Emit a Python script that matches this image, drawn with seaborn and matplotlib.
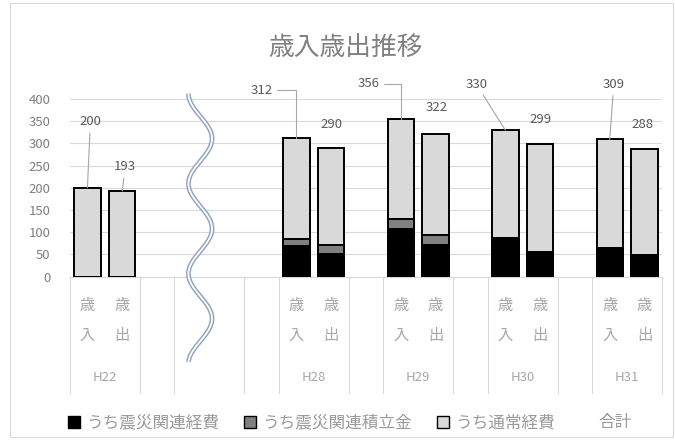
import numpy as np
import pandas as pd
import matplotlib
matplotlib.use("Agg")
import matplotlib.pyplot as plt
import matplotlib.transforms as mtransforms
from matplotlib.patches import Patch, Rectangle
import seaborn as sns

# ---- data (億円) -------------------------------------------------------
years = ["H22", "H28", "H29", "H30", "H31"]
kinds = ["歳入", "歳出"]
disaster_cost = [[0, 0], [70, 50], [107, 71], [86, 53], [64, 49]]      # うち震災関連経費
disaster_fund = [[0, 0], [15, 22], [22, 22], [0, 3], [0, 0]]          # うち震災関連積立金
totals = [[200, 193], [312, 290], [356, 322], [330, 299], [309, 288]]  # 合計
series_names = ["うち震災関連経費", "うち震災関連積立金", "うち通常経費", "合計"]
y_ticks = [0, 50, 100, 150, 200, 250, 300, 350, 400]

# ---- category layout: (group label, slot count); blank groups are spacers
segments = [("H22", 2), ("", 1), ("", 2), ("", 1), ("H28", 2), ("", 1),
            ("H29", 2), ("", 1), ("H30", 2), ("", 1), ("H31", 2)]
order, boundaries, group_centers = [], [-0.5], {}
pos = 0
for k, (lab, n) in enumerate(segments):
    if lab:
        for kind in kinds:
            order.append(f"{lab}|{kind}")
        group_centers[lab] = pos + (n - 1) / 2
    else:
        order.extend(f"_blank{k}_{i}" for i in range(n))
    pos += n
    boundaries.append(pos - 0.5)

rows = []
for yi, yr in enumerate(years):
    for ki, kind in enumerate(kinds):
        rows.append({
            "slot": f"{yr}|{kind}",
            "cost": disaster_cost[yi][ki],
            "cost_fund": disaster_cost[yi][ki] + disaster_fund[yi][ki],
            "total": totals[yi][ki],
        })
df = pd.DataFrame(rows)

# ---- style --------------------------------------------------------------
sns.set_theme(style="white")
plt.rcParams["font.family"] = ["Noto Sans CJK JP", "DejaVu Sans"]

fig = plt.figure(figsize=(6.75, 4.45), dpi=100)
ax = fig.add_axes([70 / 675, 168.3 / 445, 592 / 675, 177.7 / 445])

grid_c = "#d9d9d9"
text_c = "#7f7f7f"
colors = {"cost": "#000000", "cost_fund": "#808080", "total": "#d9d9d9"}

# stacked bars drawn as overlapping cumulative heights
for col in ["total", "cost_fund", "cost"]:
    sns.barplot(data=df, x="slot", y=col, order=order, color=colors[col],
                saturation=1, width=0.76, edgecolor="black", linewidth=1.4,
                errorbar=None, ax=ax, zorder=3)

ax.set_xlim(-0.5, len(order) - 0.5)
ax.set_ylim(0, 400)
ax.set_yticks(y_ticks)
ax.set_yticklabels([str(v) for v in y_ticks], fontsize=9.5, color=text_c)
ax.set_xticks([])
ax.set_xlabel("")
ax.set_ylabel("")
ax.tick_params(axis="y", length=0, pad=14)
ax.yaxis.grid(True, color=grid_c, lw=0.8, zorder=0)
ax.set_axisbelow(True)
for s in ["left", "right", "top"]:
    ax.spines[s].set_visible(False)
ax.spines["bottom"].set_color(grid_c)
ax.spines["bottom"].set_linewidth(0.8)

blend = mtransforms.blended_transform_factory(ax.transData, ax.transAxes)

# multi-level category axis
for b in boundaries:
    ax.plot([b, b], [0, -0.655], transform=blend, color=grid_c, lw=0.8,
            clip_on=False, zorder=1)
for yr in years:
    for kind in kinds:
        xi = order.index(f"{yr}|{kind}")
        ax.text(xi, -0.16, kind[0], transform=blend, ha="center", va="center",
                fontsize=11, color="#a6a6a6")
        ax.text(xi, -0.33, kind[1], transform=blend, ha="center", va="center",
                fontsize=11, color="#a6a6a6")
    ax.text(group_centers[yr], -0.565, yr, transform=blend, ha="center",
            va="center", fontsize=9.5, color="#a6a6a6")

# total labels with leader lines: (dx, dy) in pixels, leader style
label_layout = {
    ("H22", "歳入"): (3, 66, "line"), ("H22", "歳出"): (3, 24, "line"),
    ("H28", "歳入"): (-35, 48, "angle"), ("H28", "歳出"): (0, 23, None),
    ("H29", "歳入"): (-32, 35, "angle"), ("H29", "歳出"): (1, 26, None),
    ("H30", "歳入"): (-29, 46, "line"), ("H30", "歳出"): (0, 24, None),
    ("H31", "歳入"): (4, 55, "line"), ("H31", "歳出"): (-2, 24, None),
}
for yi, yr in enumerate(years):
    for ki, kind in enumerate(kinds):
        xi = order.index(f"{yr}|{kind}")
        dx, dy, leader = label_layout[(yr, kind)]
        arrow = None
        if leader == "line":
            arrow = dict(arrowstyle="-", color="#a6a6a6", lw=0.8,
                         shrinkA=1, shrinkB=0)
        elif leader == "angle":
            arrow = dict(arrowstyle="-", color="#a6a6a6", lw=0.8,
                         shrinkA=1, shrinkB=0,
                         connectionstyle="angle,angleA=0,angleB=90,rad=0")
        ax.annotate(str(totals[yi][ki]), xy=(xi, totals[yi][ki]),
                    xytext=(dx, dy), textcoords="offset pixels",
                    ha="center", va="center", fontsize=9.5, color="#595959",
                    arrowprops=arrow, annotation_clip=False, zorder=6)

# axis-break wave between H22 and H28
brk = [i for i, o in enumerate(order) if o.startswith("_blank2_")]
xc = np.mean(brk) - 0.26
ys = np.linspace(1.03, -0.48, 500)
xs = xc - 0.34 * np.cos(2 * np.pi * (1.03 - ys) / 0.5065)
ax.plot(xs, ys, transform=blend, color="#8fa3bf", lw=3.4, clip_on=False,
        solid_capstyle="butt", zorder=7)
ax.plot(xs, ys, transform=blend, color="white", lw=1.3, clip_on=False,
        solid_capstyle="butt", zorder=8)

# title
fig.text(345 / 675, 1 - 48 / 445, "歳入歳出推移", ha="center", va="center",
         fontsize=18.5, color="#808080")

# legend
handles = [Patch(facecolor=colors["cost"], edgecolor="black", lw=1),
           Patch(facecolor=colors["cost_fund"], edgecolor="black", lw=1),
           Patch(facecolor=colors["total"], edgecolor="black", lw=1),
           Patch(facecolor="none", edgecolor="none")]
fig.legend(handles, series_names, loc="center", ncol=4,
           bbox_to_anchor=(350 / 675, 22 / 445), frameon=False,
           fontsize=12, labelcolor="#999999", handlelength=0.7,
           handleheight=0.7, handletextpad=0.4, columnspacing=1.5)

# chart border
fig.patches.append(Rectangle((10 / 675, 8 / 445), 663 / 675, 434 / 445,
                             transform=fig.transFigure, fill=False,
                             ec="#d9d9d9", lw=0.8))

fig.savefig("out.png", dpi=100, facecolor="white")
